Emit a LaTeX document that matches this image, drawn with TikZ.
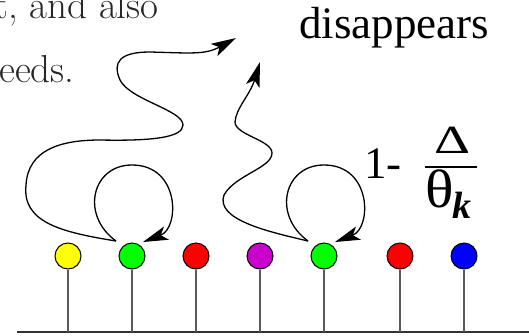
\documentclass[tikz,border=0pt]{standalone}
\usepackage{fontspec}
\usepackage{graphicx}
\usetikzlibrary{arrows.meta}
\newfontfamily\timesfont{Liberation Serif}
\definecolor{ball-yellow}{RGB}{255,255,0}
\definecolor{ball-green}{RGB}{0,255,0}
\definecolor{ball-red}{RGB}{255,0,0}
\definecolor{ball-magenta}{RGB}{204,0,204}
\definecolor{ball-blue}{RGB}{0,0,255}
\tikzset{
    ball/.style = {draw=black, circle, minimum size=26pt, inner sep=0pt, line width=1pt},
    stick-line/.style = {draw=black!65, line width=1.2pt},
    move-path/.style = {draw=black, line width=1.3pt, -{Stealth[length=25pt, width=14pt, inset=6pt]}},
    big-text/.style = {font=\timesfont\fontsize{45}{54}\selectfont, inner sep=0pt},
    page-text/.style = {font=\fontsize{39}{46}\selectfont, inner sep=0pt, anchor=base west, text=black!85},
}

\begin{document}
\begin{tikzpicture}[x=1pt, y=-1pt]
\useasboundingbox (0,0) rectangle (529,335);
\clip (0,0) rectangle (529,335);
\node[page-text] (line-a) at (-6,18) {t, and also};
\node[page-text] (line-b) at (-1,82) {eeds.};
\node[big-text, anchor=base] (gone) at (394,38) {disappears};
\node[big-text, anchor=base west] (one-minus) at (364,178) {1-};
\node[anchor=base, inner sep=0pt, font=\timesfont\fontsize{40}{44}\selectfont] (delta) at (452,153) {\scalebox{1.4}[1]{Δ}};
\node[anchor=base west, inner sep=0pt, font=\timesfont\fontsize{54}{60}\selectfont] (theta) at (425,207) {\scalebox{1.1}[1]{θ}};
\node[anchor=base west, inner sep=0pt, font=\timesfont\bfseries\itshape\fontsize{38}{44}\selectfont] (k) at (452,218) {k};
\draw[line width=1.2pt] (425,167) -- (477,167);
\coordinate (ground-left) at (17,332);
\coordinate (ground-right) at (529,332);
\draw[line width=1.6pt, black!80] (ground-left) -- (ground-right);
\node[ball, fill=ball-yellow] (b1) at (68,256) {};
\node[ball, fill=ball-green] (b2) at (132,256) {};
\node[ball, fill=ball-red] (b3) at (196,256) {};
\node[ball, fill=ball-magenta] (b4) at (260,256) {};
\node[ball, fill=ball-green] (b5) at (324,256) {};
\node[ball, fill=ball-red] (b6) at (400,256) {};
\node[ball, fill=ball-blue] (b7) at (464,256) {};
\draw[stick-line] (b1.south) -- (b1.south |- ground-left);
\draw[stick-line] (b2.south) -- (b2.south |- ground-left);
\draw[stick-line] (b3.south) -- (b3.south |- ground-left);
\draw[stick-line] (b4.south) -- (b4.south |- ground-left);
\draw[stick-line] (b5.south) -- (b5.south |- ground-left);
\draw[stick-line] (b6.south) -- (b6.south |- ground-left);
\draw[stick-line] (b7.south) -- (b7.south |- ground-left);
\coordinate (b2-out) at ([shift={(-16,-15)}]b2.center);
\coordinate (b2-top) at ([shift={(0,-91)}]b2.center);
\coordinate (b2-in) at ([shift={(11,-14)}]b2.center);
\coordinate (b5-out) at ([shift={(-16,-15)}]b5.center);
\coordinate (b5-top) at ([shift={(0,-91)}]b5.center);
\coordinate (b5-in) at ([shift={(11,-14)}]b5.center);
\coordinate (wave1-end) at (236,38);
\coordinate (wave2-end) at (260,62);
\draw[move-path] (b2-out) .. controls +(-36,-26) and +(-40,0) .. (b2-top)
    .. controls +(48,0) and +(37,-14) .. (b2-in);
\draw[move-path] (b5-out) .. controls +(-36,-26) and +(-40,0) .. (b5-top)
    .. controls +(48,0) and +(37,-14) .. (b5-in);
\draw[move-path] (b2-out) .. controls (60,232) and (22,222) .. (26,185)
    .. controls (28,150) and (60,140) .. (100,140)
    .. controls (150,141) and (183,138) .. (183,125)
    .. controls (183,110) and (130,100) .. (120,80)
    .. controls (112,62) and (120,52) .. (150,52)
    .. controls (190,53) and (205,55) .. (wave1-end);
\draw[move-path] (b5-out) .. controls (270,232) and (215,220) .. (224,195)
    .. controls (235,175) and (272,168) .. (272,153)
    .. controls (272,140) and (235,135) .. (235,122)
    .. controls (236,108) and (250,95) .. (wave2-end);
\end{tikzpicture}
\end{document}
